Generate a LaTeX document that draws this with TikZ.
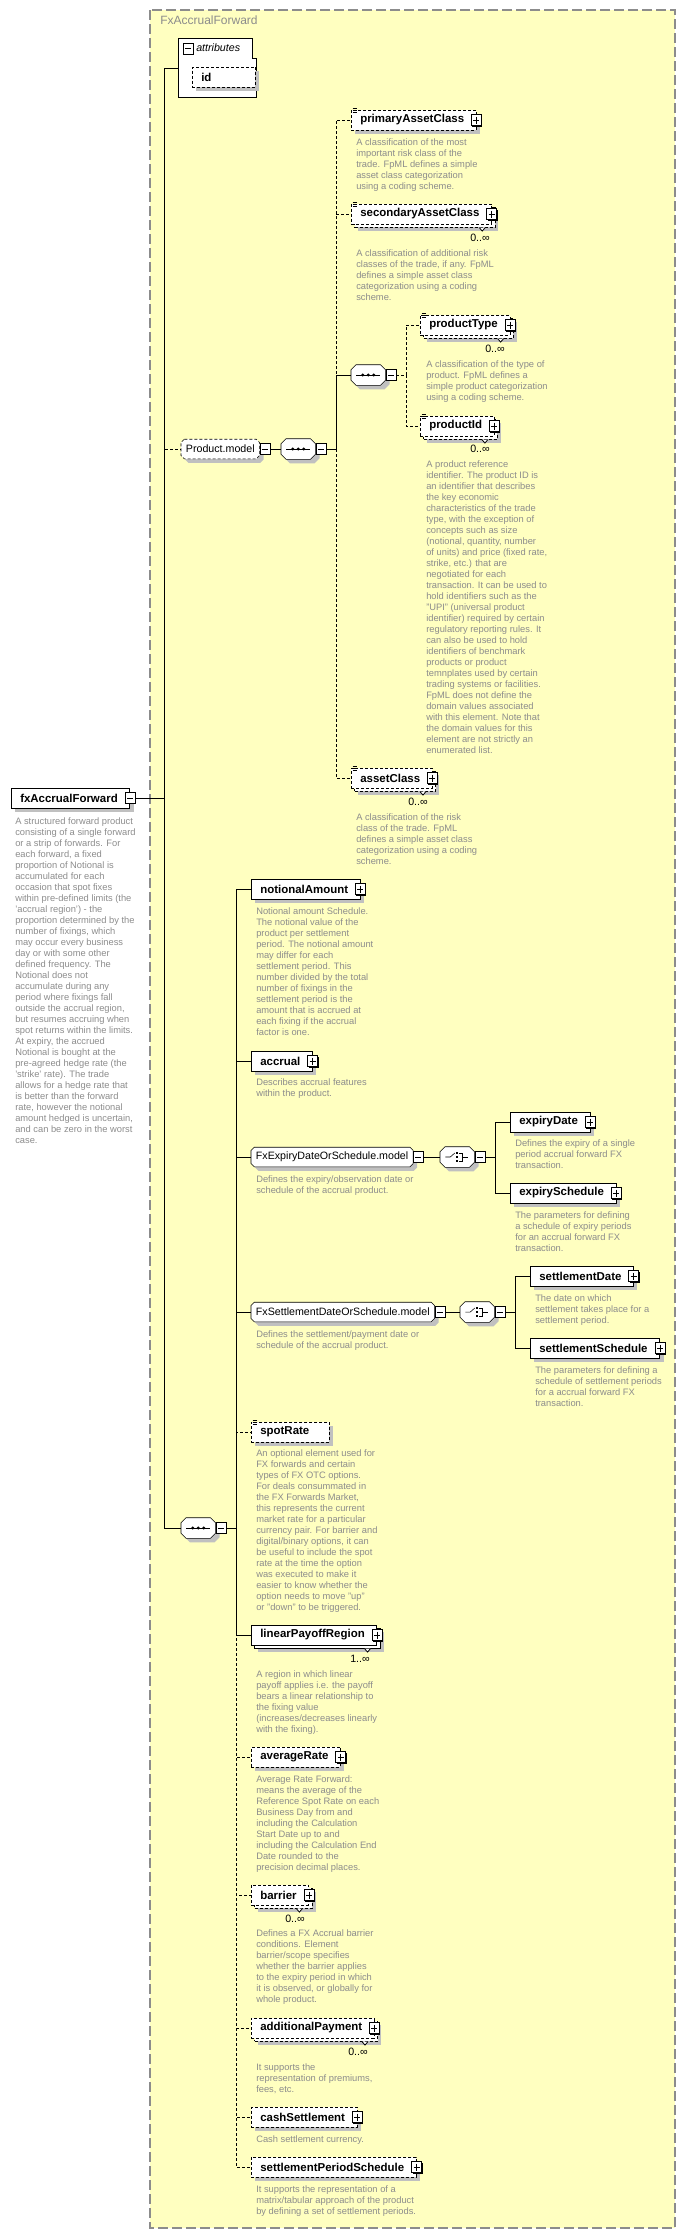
\documentclass[tikz,border=0pt]{standalone}
\usepackage{fontspec}
\setmainfont{Liberation Sans}
\usetikzlibrary{positioning,shadows,calc}
\definecolor{panel}{HTML}{FFFFC0}
\definecolor{frame}{HTML}{8C8C8C}
\definecolor{doctext}{HTML}{8C8C8C}
\definecolor{shadowgray}{HTML}{C0C0C0}
\newcommand{\elemfont}{\fontsize{8.6pt}{10pt}\selectfont\bfseries}
\newcommand{\groupfont}{\fontsize{8pt}{10pt}\selectfont}
\newcommand{\titlefont}{\fontsize{9pt}{10pt}\selectfont}
\newcommand{\docfont}{\fontsize{7pt}{8.25pt}\selectfont}
\pgfdeclarelayer{panelbg}
\pgfdeclarelayer{shapebg}
\pgfsetlayers{panelbg,shapebg,main}
% octagon outline behind a node: \octagon[options]{node}{cut}
\newcommand{\octagon}[3][]{%
  \begin{pgfonlayer}{shapebg}
  \filldraw[fill=white,shadowed,#1] ([xshift=#3]#2.north west) -- ([xshift=-#3]#2.north east)
    -- ([yshift=-#3]#2.north east) -- ([yshift=#3]#2.south east) -- ([xshift=-#3]#2.south east)
    -- ([xshift=#3]#2.south west) -- ([yshift=#3]#2.south west) -- ([yshift=-#3]#2.north west) -- cycle;
  \end{pgfonlayer}}

\begin{document}
\begin{tikzpicture}[x=0.75pt,y=-0.75pt,line width=0.75pt,
  shadowed/.style={drop shadow={shadow xshift=3pt,shadow yshift=-3pt,opacity=1,fill=shadowgray,draw=none}},
  stacked/.style={drop shadow={shadow xshift=5.25pt,shadow yshift=-5.25pt,opacity=1,fill=shadowgray,draw=none},
    copy shadow={shadow xshift=2.5pt,shadow yshift=-2.5pt}},
  elembox/.style={draw,fill=white,font=\elemfont,anchor=west,minimum height=15pt,inner sep=0pt,
    execute at begin node={\hspace*{6.75pt}},execute at end node={\hspace*{9pt}}},
  elem/.style={elembox,shadowed},
  elems/.style={elembox,stacked},
  opt/.style={dash pattern=on 2.25pt off 1.5pt},
  compo/.style={minimum width=25.5pt,minimum height=15pt,inner sep=0pt,anchor=west},
  modelbox/.style={font=\groupfont,anchor=west,minimum height=14.25pt,inner ysep=0pt,inner xsep=3.5pt},
  collapse/.style={draw,fill=white,minimum width=7.5pt,minimum height=8.25pt,inner sep=0pt,
    path picture={\draw ([xshift=1.5pt]path picture bounding box.west) -- ([xshift=-1.5pt]path picture bounding box.east);}},
  doc/.style={font=\docfont,text=doctext,align=left,anchor=north west,inner sep=0pt},
  occ/.style={font=\groupfont,anchor=east,inner sep=0pt},
  expandmark/.pic={\fill (-4,-4.5) rectangle (6,6.5);
    \filldraw[fill=white] (-5,-5.5) rectangle (5,5.5);
    \draw (-3,0) -- (3,0) (0,-3.5) -- (0,3.5);},
  manymark/.pic={\filldraw[fill=white,line width=0.6pt] (-12.5,3.3) -- (-9.5,6.8) -- (-6.5,3.3);},
  docmark/.pic={\draw[line width=0.5pt] (1.5,-1) -- (5.5,-1) (1.5,0.6) -- (5.5,0.6) (1.5,2.2) -- (5.5,2.2);},
  seqsym/.pic={\draw (-12,0) -- (12,0);
    \foreach \d in {-5.5,0,5.5} \fill (\d,0) circle (1.7);},
  choicesym/.pic={\draw (-12,0) -- (-7,0) -- (-2.5,-4);
    \foreach \d in {-4,0,4} \fill (-1.5,\d-1.1) rectangle (0.7,\d+1.1);
    \draw (2,-4) -- (4.5,-4) -- (4.5,4) -- (2,4) (4.5,0) -- (11,0);},
]
\useasboundingbox (0,0) rectangle (683,2234);
\begin{pgfonlayer}{panelbg}
\draw[frame,line width=1.2pt,dash pattern=on 7.5pt off 3pt,fill=panel] (150,10) rectangle (675,2228);
\end{pgfonlayer}
\node[font=\titlefont,text=doctext,anchor=west,inner sep=0pt] (title) at (160,20) {FxAccrualForward};

% root element
\node[elem] (root) at (11,798) {fxAccrualForward};
\node[collapse] (rootx) at (root.east) {};
\node[doc] (rootdoc) at (15,817.5) {A structured forward product\\consisting of a single forward\\or a strip of forwards. For\\each forward, a fixed\\proportion of Notional is\\accumulated for each\\occasion that spot fixes\\within pre-defined limits (the\\'accrual region') - the\\proportion determined by the\\number of fixings, which\\may occur every business\\day or with some other\\defined frequency. The\\Notional does not\\accumulate during any\\period where fixings fall\\outside the accrual region,\\but resumes accruing when\\spot returns within the limits.\\At expiry, the accrued\\Notional is bought at the\\pre-agreed hedge rate (the\\'strike' rate). The trade\\allows for a hedge rate that\\is better than the forward\\rate, however the notional\\amount hedged is uncertain,\\and can be zero in the worst\\case.};

% attributes
\node[anchor=north west,minimum width=58.5pt,minimum height=44.25pt,inner sep=0pt] (attrs) at (178,38) {};
\draw[fill=white] (attrs.north west) -- ++(74,0) -- ++(0,20) -- ++(4,0) |- (attrs.south west) -- cycle;
\node[collapse] (attrsx) at (188,48.5) {};
\node[font=\groupfont\itshape,anchor=west,inner sep=0pt] (attrslabel) at (196,48) {attributes};
\node[elem,opt,execute at end node={\hspace*{24pt}}] (idattr) at (192,77) {id};

% Product.model
\node[modelbox] (prodModel) at (181,449) {Product.model};
\octagon[opt]{prodModel}{2.5pt}
\node[collapse,anchor=west] (prodModelx) at (prodModel.east) {};
\node[compo] (seqP) at (281,449) {};
\octagon{seqP}{3.75pt}
\pic at (seqP) {seqsym};
\node[collapse,anchor=west] (seqPx) at (seqP.east) {};
\coordinate (busP) at (336,449);

\node[elem,opt] (primaryAC) at (351,120) {primaryAssetClass};
\pic at (primaryAC.east) {expandmark};
\pic at (primaryAC.north west) {docmark};
\node[doc] (primaryACdoc) at (356,138.5) {A classification of the most\\important risk class of the\\trade. FpML defines a simple\\asset class categorization\\using a coding scheme.};

\node[elems,opt] (secondaryAC) at (351,214) {secondaryAssetClass};
\pic at (secondaryAC.east) {expandmark};
\pic at (secondaryAC.north west) {docmark};
\pic at (secondaryAC.south east) {manymark};
\node[occ] (secondaryACocc) at (490,238) {0..∞};
\node[doc] (secondaryACdoc) at (356,249.5) {A classification of additional risk\\classes of the trade, if any. FpML\\defines a simple asset class\\categorization using a coding\\scheme.};

\node[compo] (seqQ) at (351,375) {};
\octagon{seqQ}{3.75pt}
\pic at (seqQ) {seqsym};
\node[collapse,anchor=west] (seqQx) at (seqQ.east) {};
\coordinate (busQ) at (406,375);

\node[elems,opt] (productType) at (420,325) {productType};
\pic at (productType.east) {expandmark};
\pic at (productType.north west) {docmark};
\pic at (productType.south east) {manymark};
\node[occ] (productTypeocc) at (505,349) {0..∞};
\node[doc] (productTypedoc) at (426,360.5) {A classification of the type of\\product. FpML defines a\\simple product categorization\\using a coding scheme.};

\node[elems,opt] (productId) at (420,426) {productId};
\pic at (productId.east) {expandmark};
\pic at (productId.north west) {docmark};
\pic at (productId.south east) {manymark};
\node[occ] (productIdocc) at (490,449) {0..∞};
\node[doc] (productIddoc) at (426,460.5) {A product reference\\identifier. The product ID is\\an identifier that describes\\the key economic\\characteristics of the trade\\type, with the exception of\\concepts such as size\\(notional, quantity, number\\of units) and price (fixed rate,\\strike, etc.) that are\\negotiated for each\\transaction. It can be used to\\hold identifiers such as the\\"UPI" (universal product\\identifier) required by certain\\regulatory reporting rules. It\\can also be used to hold\\identifiers of benchmark\\products or product\\temnplates used by certain\\trading systems or facilities.\\FpML does not define the\\domain values associated\\with this element. Note that\\the domain values for this\\element are not strictly an\\enumerated list.};

\node[elems,opt] (assetClass) at (351,778) {assetClass};
\pic at (assetClass.east) {expandmark};
\pic at (assetClass.north west) {docmark};
\pic at (assetClass.south east) {manymark};
\node[occ] (assetClassocc) at (428,802) {0..∞};
\node[doc] (assetClassdoc) at (356,813.5) {A classification of the risk\\class of the trade. FpML\\defines a simple asset class\\categorization using a coding\\scheme.};

% main sequence
\node[compo] (seqM) at (181,1528) {};
\octagon{seqM}{3.75pt}
\pic at (seqM) {seqsym};
\node[collapse,anchor=west] (seqMx) at (seqM.east) {};
\coordinate (busM) at (236,1528);

\node[elem] (notional) at (251,889) {notionalAmount};
\pic at (notional.east) {expandmark};
\node[doc] (notionaldoc) at (256,907.5) {Notional amount Schedule.\\The notional value of the\\product per settlement\\period. The notional amount\\may differ for each\\settlement period. This\\number divided by the total\\number of fixings in the\\settlement period is the\\amount that is accrued at\\each fixing if the accrual\\factor is one.};

\node[elem] (accrual) at (251,1061) {accrual};
\pic at (accrual.east) {expandmark};
\node[doc] (accrualdoc) at (256,1078.5) {Describes accrual features\\within the product.};

\node[modelbox] (expiryModel) at (251,1157) {FxExpiryDateOrSchedule.model};
\octagon{expiryModel}{2.5pt}
\node[collapse,anchor=west] (expiryModelx) at (expiryModel.east) {};
\node[doc] (expiryModeldoc) at (256,1175.5) {Defines the expiry/observation date or\\schedule of the accrual product.};
\node[compo] (choiceE) at (440,1157) {};
\octagon{choiceE}{3.75pt}
\pic at (choiceE) {choicesym};
\node[collapse,anchor=west] (choiceEx) at (choiceE.east) {};
\coordinate (busE) at (495,1157);

\node[elem] (expiryDate) at (510,1122) {expiryDate};
\pic at (expiryDate.east) {expandmark};
\node[doc] (expiryDatedoc) at (515,1139.5) {Defines the expiry of a single\\period accrual forward FX\\transaction.};
\node[elem] (expirySchedule) at (510,1193) {expirySchedule};
\pic at (expirySchedule.east) {expandmark};
\node[doc] (expiryScheduledoc) at (515,1211.5) {The parameters for defining\\a schedule of expiry periods\\for an accrual forward FX\\transaction.};

\node[modelbox] (settleModel) at (251,1312) {FxSettlementDateOrSchedule.model};
\octagon{settleModel}{2.5pt}
\node[collapse,anchor=west] (settleModelx) at (settleModel.east) {};
\node[doc] (settleModeldoc) at (256,1330.5) {Defines the settlement/payment date or\\schedule of the accrual product.};
\node[compo] (choiceS) at (460,1312) {};
\octagon{choiceS}{3.75pt}
\pic at (choiceS) {choicesym};
\node[collapse,anchor=west] (choiceSx) at (choiceS.east) {};
\coordinate (busS) at (515,1312);

\node[elem] (settlementDate) at (530,1276) {settlementDate};
\pic at (settlementDate.east) {expandmark};
\node[doc] (settlementDatedoc) at (535,1294.5) {The date on which\\settlement takes place for a\\settlement period.};
\node[elem] (settlementSchedule) at (530,1348) {settlementSchedule};
\pic at (settlementSchedule.east) {expandmark};
\node[doc] (settlementScheduledoc) at (535,1366.5) {The parameters for defining a\\schedule of settlement periods\\for a accrual forward FX\\transaction.};

\node[elem,opt,execute at end node={\hspace*{6pt}}] (spotRate) at (251,1432) {spotRate};
\pic at (spotRate.north west) {docmark};
\node[doc] (spotRatedoc) at (256,1449.5) {An optional element used for\\FX forwards and certain\\types of FX OTC options.\\For deals consummated in\\the FX Forwards Market,\\this represents the current\\market rate for a particular\\currency pair. For barrier and\\digital/binary options, it can\\be useful to include the spot\\rate at the time the option\\was executed to make it\\easier to know whether the\\option needs to move "up"\\or "down" to be triggered.};

\node[elems] (linearPayoff) at (251,1635) {linearPayoffRegion};
\pic at (linearPayoff.east) {expandmark};
\pic at (linearPayoff.south east) {manymark};
\node[occ] (linearPayoffocc) at (370,1659) {1..∞};
\node[doc] (linearPayoffdoc) at (256,1670.5) {A region in which linear\\payoff applies i.e. the payoff\\bears a linear relationship to\\the fixing value\\(increases/decreases linearly\\with the fixing).};

\node[elem,opt] (averageRate) at (251,1757) {averageRate};
\pic at (averageRate.east) {expandmark};
\node[doc] (averageRatedoc) at (256,1775.5) {Average Rate Forward:\\means the average of the\\Reference Spot Rate on each\\Business Day from and\\including the Calculation\\Start Date up to and\\including the Calculation End\\Date rounded to the\\precision decimal places.};

\node[elems,opt] (barrier) at (251,1895) {barrier};
\pic at (barrier.east) {expandmark};
\pic at (barrier.south east) {manymark};
\node[occ] (barrierocc) at (305,1919) {0..∞};
\node[doc] (barrierdoc) at (256,1929.5) {Defines a FX Accrual barrier\\conditions. Element\\barrier/scope specifies\\whether the barrier applies\\to the expiry period in which\\it is observed, or globally for\\whole product.};

\node[elems,opt] (additionalPayment) at (251,2028) {additionalPayment};
\pic at (additionalPayment.east) {expandmark};
\pic at (additionalPayment.south east) {manymark};
\node[occ] (additionalPaymentocc) at (368,2052) {0..∞};
\node[doc] (additionalPaymentdoc) at (256,2063.5) {It supports the\\representation of premiums,\\fees, etc.};

\node[elem,opt] (cashSettlement) at (251,2117) {cashSettlement};
\pic at (cashSettlement.east) {expandmark};
\node[doc] (cashSettlementdoc) at (256,2135.5) {Cash settlement currency.};

\node[elem,opt] (periodSchedule) at (251,2167) {settlementPeriodSchedule};
\pic at (periodSchedule.east) {expandmark};
\node[doc] (periodScheduledoc) at (256,2185.5) {It supports the representation of a\\matrix/tabular approach of the product\\by defining a set of settlement periods.};

% connectors
\coordinate (busA) at (164,798);
\draw (rootx.east) -- (busA);
\draw[opt] (busA) |- (prodModel.west);
\draw (busA) |- (attrs.west);
\draw (busA) |- (seqM.west);

\draw (prodModelx.east) -- (seqP.west);
\draw (seqPx.east) -- (busP);
\draw[opt] (busP) |- (primaryAC.west);
\draw[opt] (busP) |- (secondaryAC.west);
\draw[opt] (busP) |- (assetClass.west);
\draw (busP) |- (seqQ.west);
\draw[opt] (seqQx.east) -- (busQ);
\draw[opt] (busQ) |- (productType.west);
\draw[opt] (busQ) |- (productId.west);

\draw (seqMx.east) -- (busM);
\foreach \n in {spotRate,averageRate,barrier,additionalPayment,cashSettlement,periodSchedule}
  \draw[opt] (busM) |- (\n.west);
\foreach \n in {notional,accrual,expiryModel,settleModel,linearPayoff}
  \draw (busM) |- (\n.west);

\draw (expiryModelx.east) -- (choiceE.west);
\draw (choiceEx.east) -- (busE);
\draw (busE) |- (expiryDate.west);
\draw (busE) |- (expirySchedule.west);
\draw (settleModelx.east) -- (choiceS.west);
\draw (choiceSx.east) -- (busS);
\draw (busS) |- (settlementDate.west);
\draw (busS) |- (settlementSchedule.west);
\end{tikzpicture}
\end{document}
